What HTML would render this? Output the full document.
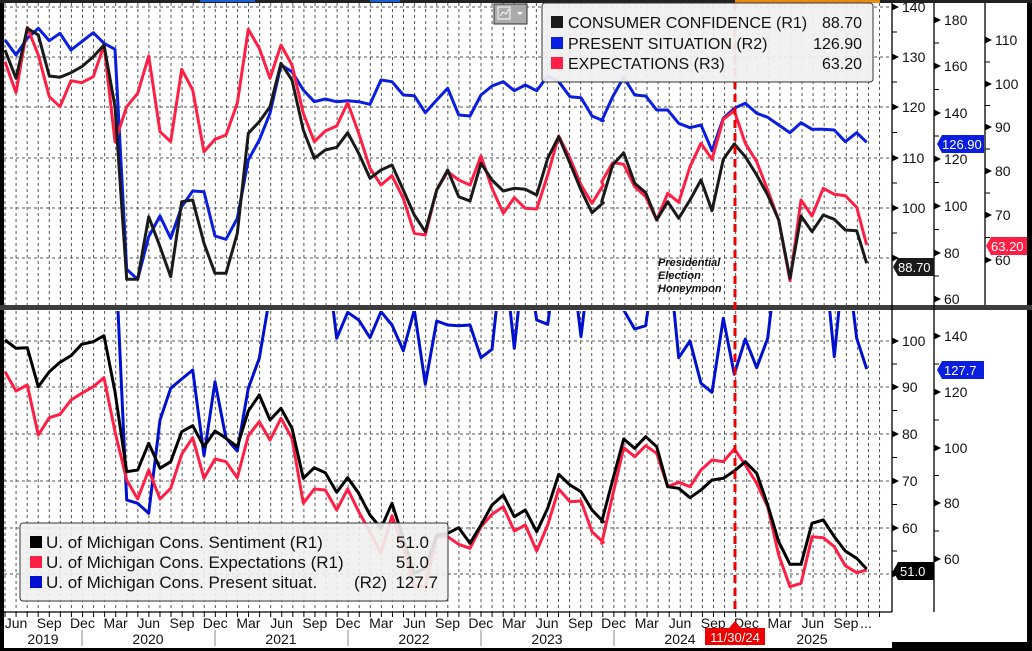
<!DOCTYPE html>
<html><head><meta charset="utf-8"><style>
html,body{margin:0;padding:0;background:#000;}
svg{display:block;font-family:"Liberation Sans","DejaVu Sans",sans-serif;}
</style></head><body>
<svg id="s" width="1032" height="651" viewBox="0 0 1032 651" xmlns="http://www.w3.org/2000/svg">
<rect x="4" y="3" width="1023" height="645" fill="#fff"/>
<rect x="892" y="642" width="140" height="9" fill="#000"/>
<rect x="0" y="0" width="1032" height="3" fill="#222"/>
<rect x="200" y="0" width="55" height="2" fill="#1a5fd0"/>
<rect x="370" y="0" width="30" height="2" fill="#1a5fd0"/>
<rect x="735" y="0" width="145" height="3" fill="#e88a10"/>
<defs>
<clipPath id="ct"><rect x="4" y="3" width="888" height="302"/></clipPath>
<clipPath id="cb"><rect x="4" y="311" width="888" height="301"/></clipPath>
</defs>
<g id="grid"></g>
<g id="lines"></g>
<rect x="0" y="305" width="1032" height="5" fill="#3c3c3c"/>
<g stroke="#000" stroke-width="1.3">
<line x1="892" y1="3" x2="892" y2="612"/>
<line x1="934" y1="3" x2="934" y2="612"/>
<line x1="985" y1="3" x2="985" y2="305"/>
<line x1="4" y1="612" x2="892" y2="612"/>
</g>
<g id="ticks" font-size="14" fill="#111"></g>
<line x1="735" y1="3" x2="735" y2="612" stroke="#e00" stroke-width="3" stroke-dasharray="8,5"/>
<rect x="542" y="3" width="331" height="79" rx="3" fill="#f0f0f0" fill-opacity="0.93" stroke="#333"/>
<g font-size="16" fill="#111">
<rect x="551" y="16" width="12" height="12" fill="#1a1a1a"/><text x="568" y="28">CONSUMER CONFIDENCE (R1)</text><text x="862" y="28" text-anchor="end">88.70</text>
<rect x="551" y="37" width="12" height="12" fill="#0a1ee0"/><text x="568" y="49">PRESENT SITUATION (R2)</text><text x="862" y="49" text-anchor="end">126.90</text>
<rect x="551" y="57" width="12" height="12" fill="#ff1f44"/><text x="568" y="69">EXPECTATIONS (R3)</text><text x="862" y="69" text-anchor="end">63.20</text>
</g>
<rect x="494" y="4" width="33" height="20" fill="#aaa" stroke="#333"/>
<rect x="498" y="7" width="12" height="12" fill="none" stroke="#fff"/>
<polyline points="500,16 503,12 506,14 509,9" fill="none" stroke="#fff"/>
<polygon points="517,12 523,12 520,15" fill="#fff"/>
<rect x="20" y="523" width="428" height="78" rx="3" fill="#f0f0f0" fill-opacity="0.9" stroke="#333"/>
<g font-size="17" fill="#111">
<rect x="30" y="536" width="12" height="12" fill="#000"/><text x="46" y="548">U. of Michigan Cons. Sentiment (R1)</text><text x="429" y="548" text-anchor="end">51.0</text>
<rect x="30" y="556" width="12" height="12" fill="#ff1f44"/><text x="46" y="568">U. of Michigan Cons. Expectations (R1)</text><text x="429" y="568" text-anchor="end">51.0</text>
<rect x="30" y="576" width="12" height="12" fill="#0010d0"/><text x="46" y="588">U. of Michigan Cons. Present situat.</text><text x="387" y="588" text-anchor="end">(R2)</text><text x="438" y="588" text-anchor="end">127.7</text>
</g>
<g font-size="11" font-weight="bold" font-style="italic" fill="#111">
<text x="658" y="266">Presidential</text><text x="658" y="279">Election</text><text x="658" y="292">Honeymoon</text>
</g>
<g font-size="13" fill="#fff">
<polygon points="937,144 942,135 984,135 984,153 942,153" fill="#0a1ee0"/><text x="942" y="149">126.90</text>
<polygon points="893,267 898,258 934,258 934,276 898,276" fill="#1a1a1a"/><text x="898" y="272">88.70</text>
<polygon points="986,246 991,237 1027,237 1027,255 991,255" fill="#ff1f44"/><text x="991" y="251">63.20</text>
<polygon points="937,370 942,361 984,361 984,379 942,379" fill="#0a1ee0"/><text x="944" y="375">127.7</text>
<polygon points="893,571 898,562 934,562 934,580 898,580" fill="#000"/><text x="900" y="576">51.0</text>
</g>
<g id="xax" font-size="14" fill="#111"></g>
<rect x="705" y="628" width="60" height="17" fill="#e00"/>
<polygon points="729,628 735,621 741,628" fill="#e00"/>
<text x="735" y="642" font-size="13" fill="#fff" text-anchor="middle">11/30/24</text>
</svg>
<script>
var NS="http://www.w3.org/2000/svg";
function el(p,t,a,txt){var e=document.createElementNS(NS,t);for(var k in a)e.setAttribute(k,a[k]);if(txt!=null)e.textContent=txt;p.appendChild(e);return e;}
var g=document.getElementById("grid");
for(var i=0;i<=79;i++){var x=5+i*11.07;if(x>892)break;
 el(g,"line",{x1:x,y1:3,x2:x,y2:305,stroke:"#555","stroke-width":1,"stroke-dasharray":"3,3"});
 el(g,"line",{x1:x,y1:311,x2:x,y2:612,stroke:"#555","stroke-width":1,"stroke-dasharray":"3,3"});
 el(g,"line",{x1:x,y1:612,x2:x,y2:617,stroke:"#000","stroke-width":1});}
[7,57,107,158,208,258].forEach(function(y){el(g,"line",{x1:4,y1:y,x2:892,y2:y,stroke:"#555","stroke-width":1,"stroke-dasharray":"3,3"});});
[341,387,434,481,528,574].forEach(function(y){el(g,"line",{x1:4,y1:y,x2:892,y2:y,stroke:"#555","stroke-width":1,"stroke-dasharray":"3,3"});});
var L=document.getElementById("lines");
function pl(pts,col,clip,oy){var s=pts.map(function(p){return p[0]+","+(p[1]/3+oy).toFixed(1);}).join(" ");
 el(L,"polyline",{points:s,fill:"none",stroke:col,"stroke-width":3,"stroke-linejoin":"round","clip-path":"url(#"+clip+")"});}
var A=[15,48,82,115,148,180,213,245,280,312,345,380,413,446,480,512,545,578,612,645,678,712,745,778,810,843,876,910];
var B=[10,43,76,110,143,176,210,243,276,310,343,376,410,443,476,510,543,576,610,643,676,710,743,776,810,843,876,910];
var C=[0,35,68,101,134,167,200,233,266,300,333,366,400,433,466,500,533,566,600,633,666,700,733,766,800,830];
function mk(xs,off,ys){return xs.map(function(z,i){return [+(off+z/3).toFixed(1),ys[i]];});}
var tb=mk(A,0,[150,235,85,105,228,232,218,200,170,135,320,838,838,650,740,830,605,600,730,820,820,700,400,365,320,190,240,390])
 .concat(mk(B.slice(1),300,[475,450,442,398,460,535,510,495,570,645,695,570,510,590,603,490,540,573,565,568,585,475,410,490,570,638,608]))
 .concat(mk(C.slice(1),590,[605,495,458,550,578,660,605,655,600,540,632,478,432,470,525,585,660,835,648,695,645,658,690,692,790]));
var tbl=mk(A,0,[120,165,115,85,122,100,150,125,98,130,148,808,838,710,648,715,620,573,575,708,718,655,480,420,340,195,215,270])
 .concat(mk(B.slice(1),300,[305,297,305,302,305,313,240,245,285,287,338,300,265,345,348,285,258,245,272,255,272,228,245,290,293,348,362]))
 .concat(mk(C.slice(1),590,[362,290,232,285,288,330,330,370,383,375,452,355,325,310,340,352,375,398,368,388,388,390,425,398,427]));
var tr=mk(A,0,[185,278,82,165,290,320,242,248,230,135,425,320,280,168,395,425,208,270,455,418,405,310,88,145,235,135,195,340])
 .concat(mk(B.slice(1),300,[425,393,378,308,400,505,555,527,595,700,705,570,515,540,555,468,565,640,593,625,627,525,408,475,555,610,555]))
 .concat(mk(C.slice(1),590,[545,488,493,560,590,660,580,607,500,430,478,358,332,430,485,570,660,842,600,648,565,583,587,622,735]));
pl(tbl,"#0a1ee0","ct",0);pl(tr,"#ff1f44","ct",0);pl(tb,"#1a1a1a","ct",0);
var O=-180;
var bb=mk(A,0,[105,130,128,245,200,172,152,118,110,92,260,500,495,415,490,470,380,362,425,378,400,425,318,270,345,310,370,520])
 .concat(mk(B.slice(1),300,[488,503,562,518,565,630,670,595,700,805,790,690,685,668,715,660,600,570,635,615,680,610,508,540,560,615,650]))
 .concat(mk(C.slice(1),590,[650,525,402,430,395,425,545,550,578,555,525,520,498,470,505,600,710,778,778,655,645,695,738,760,792]));
var br=mk(A,0,[200,258,240,390,338,328,285,265,245,218,380,525,582,495,582,550,448,398,520,462,470,518,392,350,405,340,400,595])
 .concat(mk(B.slice(1),300,[552,555,615,552,620,680,745,632,730,843,845,695,695,718,730,665,628,605,678,660,738,660,552,590,588,680,712]))
 .concat(mk(C.slice(1),590,[715,570,428,455,422,445,545,532,545,495,465,470,432,480,535,605,750,845,835,695,698,725,782,803,795]));
var bbl=mk(A,0,[O,O,O,O,O,O,O,O,O,O,O,585,595,625,345,250,222,195,452,230,400,438,250,160,-30,O,O,O])
 .concat(mk(B.slice(1),300,[O,O,100,22,45,98,20,60,137,15,238,48,60,62,60,158,133,O,130,O,45,58,O,O,95,O,O]))
 .concat(mk(C.slice(1),590,[O,O,15,72,62,O,O,158,108,235,262,40,208,102,188,100,O,O,O,-20,O,155,O,100,192]));
pl(bbl,"#0010d0","cb",305);pl(br,"#ff1f44","cb",305);pl(bb,"#000","cb",305);
var T=document.getElementById("ticks");
function axis(x,vals,ys){ys.forEach(function(y,i){
 el(T,"polygon",{points:x+","+(y-3.5)+" "+(x+7)+","+y+" "+x+","+(y+3.5),fill:"#000"});
 if(vals[i]!==null)el(T,"text",{x:x+10,y:y+5},vals[i]);
 if(i<ys.length-1){var m=(y+ys[i+1])/2;el(T,"line",{x1:x,y1:m,x2:x+5,y2:m,stroke:"#000"});}});}
axis(892,["140","130","120","110","100",null],[7,57,107,158,208,258]);
axis(934,["180","160","140","120","100","80","60"],[20,66,113,159,206,253,299]);
axis(985,["110","100","90","80","70","60"],[40,84,127,171,215,260]);
axis(892,["100","90","80","70","60",null],[341,387,434,481,528,574]);
axis(934,["140","120","100","80","60"],[336,392,448,503,559]);
var XA=document.getElementById("xax");var mn=["Jun","Sep","Dec","Mar"];
for(var k=0;k<26;k++){var x=16+k*33.2;if(x>850)break;el(XA,"text",{x:x,y:628,"text-anchor":"middle"},mn[k%4]);}
el(XA,"text",{x:866,y:628,"text-anchor":"middle"},"...");
[["2019",43],["2020",148],["2021",281],["2022",414],["2023",547],["2024",680],["2025",812]].forEach(function(a){el(XA,"text",{x:a[1],y:644,"text-anchor":"middle"},a[0]);});
[82,215,348,481,614,747].forEach(function(x){el(XA,"line",{x1:x,y1:630,x2:x,y2:646,stroke:"#888"});});
</script>
</body></html>
